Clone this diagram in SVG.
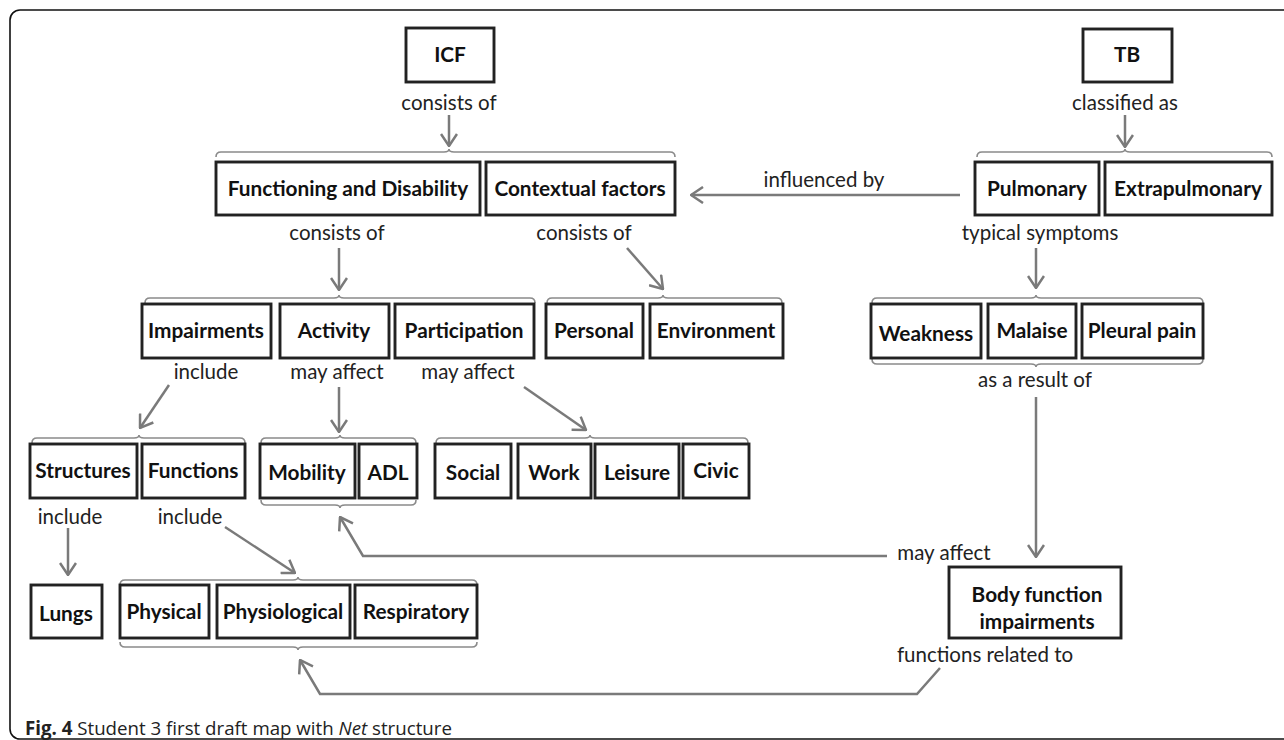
<svg xmlns="http://www.w3.org/2000/svg" width="1284" height="740" viewBox="0 0 1284 740">
<style>
.box{fill:#fff;stroke:#222;stroke-width:2.9}
.lbl{font-family:Lato,"Liberation Sans",sans-serif;font-weight:bold;font-size:20.8px;fill:#111;text-anchor:middle}
.rel{font-family:Lato,"Liberation Sans",sans-serif;font-size:20.5px;fill:#222;text-anchor:middle}
.con{fill:none;stroke:#7a7a7a;stroke-width:2.5;stroke-linejoin:miter}
.brace{fill:none;stroke:#8a8a8a;stroke-width:1.6}
.cap{font-family:"Open Sans","Liberation Sans",sans-serif;font-size:18.7px;fill:#222}
</style>
<defs>
<marker id="ah" viewBox="0 0 14 18" refX="13" refY="9" markerWidth="14" markerHeight="18" markerUnits="userSpaceOnUse" orient="auto">
<path d="M1,1 L13,9 L1,17" fill="none" stroke="#7a7a7a" stroke-width="2.5"/>
</marker>
</defs>
<rect x="0" y="0" width="1284" height="740" fill="#fff"/>
<rect x="10" y="10" width="1300" height="729" rx="10" fill="none" stroke="#111" stroke-width="1.6"/>

<g id="braces">
<path class="brace" d="M216,157 Q216,152 221,152 L444,152 Q449,152 449,149 Q449,152 454,152 L670,152 Q675,152 675,157"/>
<path class="brace" d="M977,157 Q977,152 982,152 L1120,152 Q1125,152 1125,149 Q1125,152 1130,152 L1267,152 Q1272,152 1272,157"/>
<path class="brace" d="M145,303 Q145,298 150,298 L334,298 Q339,298 339,295 Q339,298 344,298 L530,298 Q535,298 535,303"/>
<path class="brace" d="M547,303 Q547,298 552,298 L658,298 Q663,298 663,295 Q663,298 668,298 L777,298 Q782,298 782,303"/>
<path class="brace" d="M872,303 Q872,298 877,298 L1031,298 Q1036,298 1036,295 Q1036,298 1041,298 L1198,298 Q1203,298 1203,303"/>
<path class="brace" d="M872,359 Q872,364 877,364 L1031,364 Q1036,364 1036,367 Q1036,364 1041,364 L1198,364 Q1203,364 1203,359"/>
<path class="brace" d="M32,443 Q32,438 37,438 L134,438 Q139,438 139,435 Q139,438 144,438 L240,438 Q245,438 245,443"/>
<path class="brace" d="M261,443 Q261,438 266,438 L335,438 Q340,438 340,435 Q340,438 345,438 L411,438 Q416,438 416,443"/>
<path class="brace" d="M261,500 Q261,505 266,505 L335,505 Q340,505 340,508 Q340,505 345,505 L411,505 Q416,505 416,500"/>
<path class="brace" d="M436,443 Q436,438 441,438 L585,438 Q590,438 590,435 Q590,438 595,438 L743,438 Q748,438 748,443"/>
<path class="brace" d="M120,585 Q120,580 125,580 L293,580 Q298,580 298,577 Q298,580 303,580 L472,580 Q477,580 477,585"/>
<path class="brace" d="M120,642 Q120,647 125,647 L293,647 Q298,647 298,650 Q298,647 303,647 L472,647 Q477,647 477,642"/>
</g>

<g id="connectors">
<line class="con" x1="449" y1="115" x2="449" y2="146" marker-end="url(#ah)"/>
<line class="con" x1="1125" y1="115" x2="1125" y2="147" marker-end="url(#ah)"/>
<line class="con" x1="960" y1="195" x2="691" y2="195" marker-end="url(#ah)"/>
<line class="con" x1="339" y1="248" x2="339" y2="290" marker-end="url(#ah)"/>
<line class="con" x1="627" y1="248" x2="663" y2="289" marker-end="url(#ah)"/>
<line class="con" x1="1036" y1="248" x2="1036" y2="288" marker-end="url(#ah)"/>
<line class="con" x1="169" y1="385" x2="140" y2="428" marker-end="url(#ah)"/>
<line class="con" x1="339" y1="387" x2="339" y2="432" marker-end="url(#ah)"/>
<line class="con" x1="524" y1="387" x2="586" y2="430" marker-end="url(#ah)"/>
<line class="con" x1="1036" y1="397" x2="1036" y2="557" marker-end="url(#ah)"/>
<line class="con" x1="68" y1="528" x2="68" y2="575" marker-end="url(#ah)"/>
<line class="con" x1="225" y1="527" x2="295" y2="573" marker-end="url(#ah)"/>
<polyline class="con" points="887,556 363,556 340,517" marker-end="url(#ah)"/>
<polyline class="con" points="940,668 917,694 320,694 300,660" marker-end="url(#ah)"/>
</g>

<g id="labels">
<text class="rel" x="449" y="110">consists of</text>
<text class="rel" x="1125" y="110">classified as</text>
<text class="rel" x="824" y="187">influenced by</text>
<text class="rel" x="337" y="240">consists of</text>
<text class="rel" x="584" y="240">consists of</text>
<text class="rel" x="1040" y="240">typical symptoms</text>
<text class="rel" x="206" y="379">include</text>
<text class="rel" x="337" y="379">may affect</text>
<text class="rel" x="468" y="379">may affect</text>
<text class="rel" x="1035" y="387">as a result of</text>
<text class="rel" x="70" y="524">include</text>
<text class="rel" x="190" y="524">include</text>
<text class="rel" x="944" y="560">may affect</text>
<text class="rel" x="985" y="662">functions related to</text>
</g>

<g id="n-icf"><rect class="box" x="406" y="28" width="88" height="54"/><text class="lbl" x="450" y="62">ICF</text></g>
<g id="n-tb"><rect class="box" x="1083" y="29" width="89" height="53"/><text class="lbl" x="1127" y="62">TB</text></g>
<g id="n-functioning"><rect class="box" x="216" y="162" width="264" height="53"/><text class="lbl" x="348" y="196">Functioning and Disability</text></g>
<g id="n-contextual"><rect class="box" x="486" y="162" width="189" height="53"/><text class="lbl" x="580" y="196">Contextual factors</text></g>
<g id="n-pulmonary"><rect class="box" x="975" y="162" width="124" height="53"/><text class="lbl" x="1037" y="196">Pulmonary</text></g>
<g id="n-extrapulmonary"><rect class="box" x="1105" y="162" width="167" height="53"/><text class="lbl" x="1188" y="196">Extrapulmonary</text></g>
<g id="n-impairments"><rect class="box" x="142" y="304" width="129" height="54"/><text class="lbl" x="206" y="338">Impairments</text></g>
<g id="n-activity"><rect class="box" x="280" y="304" width="109" height="54"/><text class="lbl" x="334" y="338">Activity</text></g>
<g id="n-participation"><rect class="box" x="395" y="304" width="139" height="54"/><text class="lbl" x="464" y="338">Participation</text></g>
<g id="n-personal"><rect class="box" x="546" y="304" width="97" height="54"/><text class="lbl" x="594" y="338">Personal</text></g>
<g id="n-environment"><rect class="box" x="650" y="304" width="133" height="54"/><text class="lbl" x="716" y="338">Environment</text></g>
<g id="n-weakness"><rect class="box" x="871" y="304" width="110" height="54"/><text class="lbl" x="926" y="341">Weakness</text></g>
<g id="n-malaise"><rect class="box" x="988" y="304" width="88" height="54"/><text class="lbl" x="1032" y="338">Malaise</text></g>
<g id="n-pleural"><rect class="box" x="1082" y="304" width="121" height="54"/><text class="lbl" x="1142" y="338">Pleural pain</text></g>
<g id="n-structures"><rect class="box" x="30" y="444" width="107" height="54"/><text class="lbl" x="83" y="478">Structures</text></g>
<g id="n-functions"><rect class="box" x="142" y="444" width="103" height="54"/><text class="lbl" x="193" y="478">Functions</text></g>
<g id="n-mobility"><rect class="box" x="260" y="444" width="95" height="54"/><text class="lbl" x="307" y="480">Mobility</text></g>
<g id="n-adl"><rect class="box" x="359" y="444" width="58" height="54"/><text class="lbl" x="388" y="480">ADL</text></g>
<g id="n-social"><rect class="box" x="435" y="444" width="76" height="54"/><text class="lbl" x="473" y="480">Social</text></g>
<g id="n-work"><rect class="box" x="518" y="444" width="73" height="54"/><text class="lbl" x="554" y="480">Work</text></g>
<g id="n-leisure"><rect class="box" x="595" y="444" width="84" height="54"/><text class="lbl" x="637" y="480">Leisure</text></g>
<g id="n-civic"><rect class="box" x="683" y="444" width="66" height="54"/><text class="lbl" x="716" y="478">Civic</text></g>
<g id="n-lungs"><rect class="box" x="31" y="585" width="71" height="53"/><text class="lbl" x="66" y="621">Lungs</text></g>
<g id="n-physical"><rect class="box" x="120" y="585" width="89" height="53"/><text class="lbl" x="164" y="619">Physical</text></g>
<g id="n-physiological"><rect class="box" x="217" y="585" width="133" height="53"/><text class="lbl" x="283" y="619">Physiological</text></g>
<g id="n-respiratory"><rect class="box" x="355" y="585" width="122" height="53"/><text class="lbl" x="416" y="619">Respiratory</text></g>
<g id="n-body"><rect class="box" x="949" y="567" width="172" height="71"/><text class="lbl" x="1037" y="602">Body function</text><text class="lbl" x="1037" y="629">impairments</text></g>

<text class="cap" x="25" y="735"><tspan font-weight="bold">Fig. 4</tspan> Student 3 first draft map with <tspan font-style="italic">Net</tspan> structure</text>
</svg>
